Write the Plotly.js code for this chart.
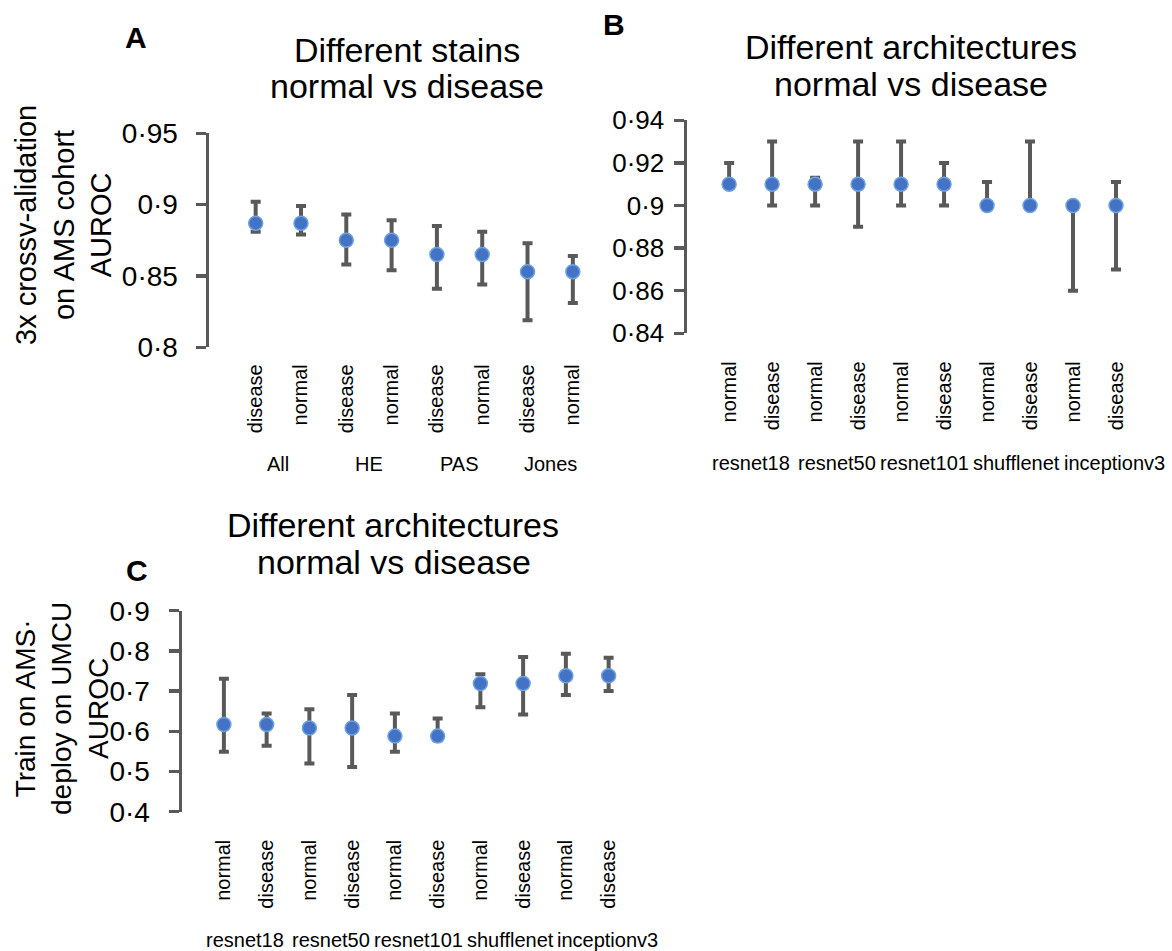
<!DOCTYPE html>
<html><head><meta charset="utf-8">
<script src="https://cdn.plot.ly/plotly-3.0.1.min.js"></script>
<style>html,body{margin:0;padding:0;background:#fff}</style>
</head><body><div id="chart" style="width:1172px;height:951px"></div>
<script>
// ---------- Panel A: different stains (3x cross-validation, AMS) ----------
const stainGroups  = ["All","All","HE","HE","PAS","PAS","Jones","Jones"];
const stainClasses = ["disease","normal","disease","normal","disease","normal","disease","normal"];
const stainAUROC   = [0.887,0.887,0.875,0.875,0.865,0.865,0.853,0.853];
const stainUpper   = [0.902,0.899,0.893,0.889,0.885,0.881,0.873,0.864];
const stainLower   = [0.881,0.879,0.858,0.854,0.841,0.844,0.819,0.831];
const stainTickVals = [0.8,0.85,0.9,0.95];
const stainTickText = ["0·8","0·85","0·9","0·95"];

// ---------- Panel B: different architectures (3x cross-validation, AMS) ----------
const archGroups  = ["resnet18","resnet18","resnet50","resnet50","resnet101","resnet101","shufflenet","shufflenet","inceptionv3","inceptionv3"];
const archClasses = ["normal","disease","normal","disease","normal","disease","normal","disease","normal","disease"];
const cvAUROC = [0.91,0.91,0.91,0.91,0.91,0.91,0.90,0.90,0.90,0.90];
const cvUpper = [0.92,0.93,0.913,0.93,0.93,0.92,0.911,0.93,0.90,0.911];
const cvLower = [0.91,0.90,0.90,0.89,0.90,0.90,0.90,0.90,0.86,0.87];
const cvTickVals = [0.84,0.86,0.88,0.9,0.92,0.94];
const cvTickText = ["0·84","0·86","0·88","0·9","0·92","0·94"];

// ---------- Panel C: train on AMS, deploy on UMCU ----------
const extAUROC = [0.617,0.617,0.608,0.608,0.588,0.588,0.719,0.719,0.738,0.738];
const extUpper = [0.731,0.644,0.655,0.690,0.644,0.632,0.742,0.785,0.793,0.783];
const extLower = [0.549,0.564,0.520,0.511,0.549,0.578,0.660,0.642,0.690,0.700];
const extTickVals = [0.4,0.5,0.6,0.7,0.8,0.9];
const extTickText = ["0·4","0·5","0·6","0·7","0·8","0·9"];

const W = 1172, H = 951;
const FONT = "Liberation Sans, Arial, sans-serif";
const DOT = "#4472C4", DOTEDGE = "#6FA3E0", BAR = "#595959";
const px = v => v / W, py = v => 1 - v / H;
const keysOf = (groups, classes) => groups.map((g, i) => g + "|" + classes[i]);

function trace(groups, classes, mean, upper, lower, xa, ya) {
  return {
    type: "scatter", mode: "markers",
    x: keysOf(groups, classes), y: mean,
    xaxis: xa, yaxis: ya,
    marker: {color: DOT, size: 14, line: {color: DOTEDGE, width: 1.5}},
    error_y: {type: "data", symmetric: false,
      array: upper.map((u, i) => u - mean[i]),
      arrayminus: lower.map((l, i) => mean[i] - l),
      color: BAR, thickness: 4, width: 5},
    hoverinfo: "y"
  };
}

const data = [
  trace(stainGroups, stainClasses, stainAUROC, stainUpper, stainLower, "x", "y"),
  trace(archGroups, archClasses, cvAUROC, cvUpper, cvLower, "x2", "y2"),
  trace(archGroups, archClasses, extAUROC, extUpper, extLower, "x3", "y3")
];

function xAxis(domain, range, groups, classes, labelTop) {
  return {domain: domain, range: range, type: "category",
    tickmode: "array", tickvals: keysOf(groups, classes), ticktext: classes,
    anchor: "free", position: py(labelTop),
    showline: false, showgrid: false, zeroline: false, ticks: "",
    tickangle: -90, tickfont: {family: FONT, size: 20, color: "#000"}, fixedrange: true};
}
function yAxis(domain, range, vals, text, fs, standoff, xa) {
  return {domain: domain, range: range, tickvals: vals, ticktext: text, anchor: xa,
    showline: true, linecolor: BAR, linewidth: 3.5, ticks: "outside", ticklen: 10,
    tickwidth: 3.5, tickcolor: BAR, showgrid: false, zeroline: false,
    ticklabelstandoff: standoff,
    tickfont: {family: FONT, size: fs, color: "#000"}, fixedrange: true};
}

function txt(text, x, y, size, opts) {
  return Object.assign({text: text, xref: "paper", yref: "paper", x: px(x), y: py(y),
    xanchor: "center", yanchor: "middle", showarrow: false,
    font: {family: FONT, size: size, color: "#000"}}, opts || {});
}

const annotations = [
  txt("<b>A</b>", 136, 38, 30),
  txt("<b>B</b>", 614, 25, 30),
  txt("<b>C</b>", 137, 570, 30),
  txt("Different stains", 407, 50, 34),
  txt("normal vs disease", 407, 86, 34),
  txt("Different architectures", 911, 47, 34),
  txt("normal vs disease", 911, 84, 34),
  txt("Different architectures", 393, 525, 34),
  txt("normal vs disease", 394, 562, 34),
  txt("3x crossv-alidation<br>on AMS cohort<br>AUROC", 64, 225, 29, {textangle: -90}),
  txt("Train on AMS·<br>deploy on UMCU<br>AUROC", 62, 709, 28, {textangle: -90})
];

// group labels centred under their pair of categories
const groupPanels = [];
function addGroupLabels(groups, xref, yPx) {
  const idx = [];
  [...new Set(groups)].forEach(g => {
    const pos = groups.map((v, i) => v === g ? i : -1).filter(i => i >= 0);
    const centre = pos.reduce((a, b) => a + b, 0) / pos.length;
    idx.push(annotations.length);
    annotations.push({text: g, xref: xref, yref: "paper", x: centre, y: py(yPx),
      xanchor: "center", yanchor: "middle", showarrow: false,
      font: {family: FONT, size: 20, color: "#000"}});
  });
  groupPanels.push(idx);
}
addGroupLabels(stainGroups, "x", 464);
addGroupLabels(archGroups, "x2", 463);
addGroupLabels(archGroups, "x3", 940);

const layout = {
  width: W, height: H, margin: {l: 0, r: 0, t: 0, b: 0},
  paper_bgcolor: "#fff", plot_bgcolor: "rgba(0,0,0,0)", showlegend: false,
  font: {family: FONT, color: "#000"},
  xaxis:  xAxis([209 / W, 595.5 / W], [-1.03, 7.5], stainGroups, stainClasses, 359.3),
  yaxis:  yAxis([py(347.3), py(133.3)], [0.8, 0.95], stainTickVals, stainTickText, 28, 12, "x"),
  xaxis2: xAxis([687 / W, 1137.5 / W], [-0.98, 9.5], archGroups, archClasses, 356.3),
  yaxis2: yAxis([py(333.3), py(120.3)], [0.84, 0.94], cvTickVals, cvTickText, 26, 4, "x2"),
  xaxis3: xAxis([182 / W, 630 / W], [-0.98, 9.5], archGroups, archClasses, 834.7),
  yaxis3: yAxis([py(811.7), py(610.7)], [0.4, 0.9], extTickVals, extTickText, 28, 13, "x3"),
  annotations: annotations
};

const GAP = 4;
Plotly.newPlot("chart", data, layout, {displayModeBar: false, staticPlot: true}).then(gd => {
  // push overlapping group labels to the right, left to right
  const upd = {};
  groupPanels.forEach(list => {
    let prevRight = -Infinity;
    list.forEach(i => {
      const el = gd.querySelector('.annotation[data-index="' + i + '"] .annotation-text');
      if (!el) return;
      const b = el.getBoundingClientRect();
      const shift = Math.max(0, prevRight + GAP - b.left);
      if (shift) upd["annotations[" + i + "].xshift"] = shift;
      prevRight = b.right + shift;
    });
  });
  return Object.keys(upd).length ? Plotly.relayout(gd, upd) : gd;
});
</script></body></html>
